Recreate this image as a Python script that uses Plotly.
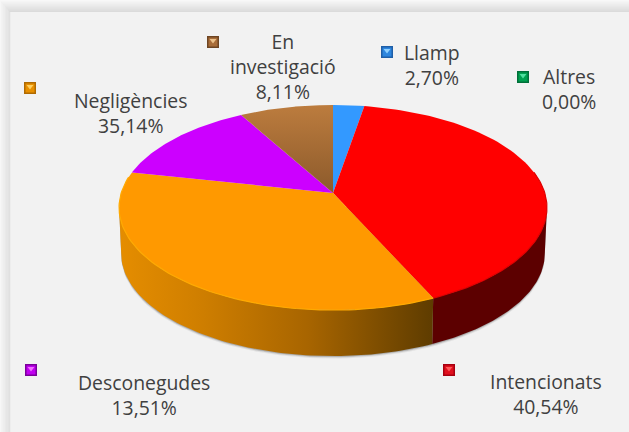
import math
import plotly.graph_objects as go

# ---- data (in drawing order, clockwise from 12 o'clock)
categories = ["Llamp", "Intencionats", "Negligències", "Desconegudes", "En investigació", "Altres"]
values = [2.70, 40.54, 35.14, 13.51, 8.11, 0.00]
percent_labels = ["2,70%", "40,54%", "35,14%", "13,51%", "8,11%", "0,00%"]
label_texts = ["Llamp", "Intencionats", "Negligències", "Desconegudes", "En<br>investigació", "Altres"]

# ---- styles
top_colors = ["#3399FF", "#FF0000", "#FF9900", "#CC00FF", None, "#00B050"]
key_dark = ["#1F5FA8", "#A80010", "#B06A00", "#7A0099", "#6E4522", "#00703A"]
key_mid = ["#2E86DE", "#E0101E", "#E89000", "#C000F0", "#A86C38", "#00A050"]
key_light = ["#8FD0FF", "#FF5A5A", "#FFD060", "#F070FF", "#EBC08A", "#50E0A0"]

# ---- layout (pixels)
W, H = 629, 432
CX, CY = 333.0, 193.0
A, B, P = 211.8, 100.5, 0.1415
DEPTH = 46.0
label_xy = [(432, 65), (546, 394), (130, 113), (144, 395), (283, 66), (569, 89)]
key_xy = [(387, 52), (449, 370), (30, 88), (31, 370), (213, 42), (523, 77)]
TEXT = "#404040"
FONT = "Open Sans"


def proj(theta):
    s, c = math.sin(theta), math.cos(theta)
    w = 1 + P * c
    return CX + A * s / w, CY - B * c / w


def arc(t0, t1, n=90):
    return [proj(t0 + (t1 - t0) * i / n) for i in range(n + 1)]


def lower(pts):
    return [(CX + (x - CX) * 0.99, y + DEPTH) for x, y in pts]


total = sum(values)
bounds = [0.0]
for v in values:
    bounds.append(bounds[-1] + v / total * 2 * math.pi)

fig = go.Figure()
T_L, T_R = math.radians(262.15), math.radians(97.85)


def poly(pts, color=None, grad=None, line=None):
    xs = [p[0] for p in pts] + [pts[0][0]]
    ys = [p[1] for p in pts] + [pts[0][1]]
    kw = dict(x=xs, y=ys, mode="lines", fill="toself", hoverinfo="skip", showlegend=False,
              line=dict(width=0, color="rgba(0,0,0,0)"))
    if grad:
        kw["fillgradient"] = grad
    else:
        kw["fillcolor"] = color
    fig.add_trace(go.Scatter(**kw))


# soft shadow under the wall
shadow = lower(arc(T_R, T_L))
for off, a in ((2.5, 0.10), (1.5, 0.18), (0.7, 0.30)):
    pts = [(x, y + off) for x, y in shadow] + [proj(T_L), proj(T_R)]
    poly(pts, color=f"rgba(90,90,90,{a})")

# side walls of the front slices
red_end = bounds[2]
wall = arc(T_R, red_end)
poly(wall + lower(wall)[::-1], color="#5C0000")
wall = arc(red_end, T_L)
poly(wall + lower(wall)[::-1],
     grad=dict(type="horizontal", colorscale=[[0, "#E58D00"], [0.25, "#D07F00"], [0.6, "#A86500"], [1, "#5E3C00"]]))

# top faces
apex = (CX, CY)
for i, col in enumerate(top_colors):
    if values[i] <= 0:
        continue
    pts = [apex] + arc(bounds[i], bounds[i + 1])
    if col is None:
        poly(pts, grad=dict(type="vertical", colorscale=[[0, "#8C5A2B"], [1, "#BC7C3E"]]))
    else:
        poly(pts, color=col)

# bevel rims on the front edge
for t0, t1, c in ((T_R - 0.35, red_end, "#E00000"), (red_end, T_L + 0.3, "#FFAA00")):
    pts = arc(t0, t1)
    fig.add_trace(go.Scatter(x=[p[0] for p in pts], y=[p[1] for p in pts], mode="lines",
                             line=dict(color=c, width=1.2), hoverinfo="skip", showlegend=False))

# legend keys
for i in range(len(categories)):
    x, y = key_xy[i]
    for sym, size, col in (("square", 12, key_dark[i]), ("square", 9, key_mid[i]), ("triangle-down", 6, key_light[i])):
        fig.add_trace(go.Scatter(x=[x], y=[y - (1.5 if sym != "square" else 0)], mode="markers",
                                 marker=dict(symbol=sym, size=size, color=col, line=dict(width=0)),
                                 hoverinfo="skip", showlegend=False))

# labels
for i in range(len(categories)):
    x, y = label_xy[i]
    fig.add_annotation(x=x, y=y, text=f"{label_texts[i]}<br>{percent_labels[i]}", showarrow=False,
                       xanchor="center", yanchor="middle", align="center",
                       font=dict(family=FONT, size=19.4, color=TEXT))

# panel frame
shapes = []
for i in range(12):
    g = int(248 - i * 2.6)
    c = f"rgb({g},{g},{g})"
    shapes.append(dict(type="rect", x0=i * 0.85, x1=W, y0=i, y1=i + 1, fillcolor=c, line=dict(width=0), layer="below"))
    shapes.append(dict(type="rect", x0=i * 0.85, x1=(i + 1) * 0.85, y0=i, y1=H, fillcolor=c, line=dict(width=0), layer="below"))

fig.update_layout(
    width=W, height=H, margin=dict(l=0, r=0, t=0, b=0),
    paper_bgcolor="#F2F2F2", plot_bgcolor="rgba(0,0,0,0)", showlegend=False, shapes=shapes,
    xaxis=dict(range=[0, W], visible=False, fixedrange=True),
    yaxis=dict(range=[H, 0], visible=False, fixedrange=True),
)
fig.write_html("out.html", config={"displayModeBar": False},
               post_script="document.body.style.margin='0';document.documentElement.style.overflow='hidden';")
